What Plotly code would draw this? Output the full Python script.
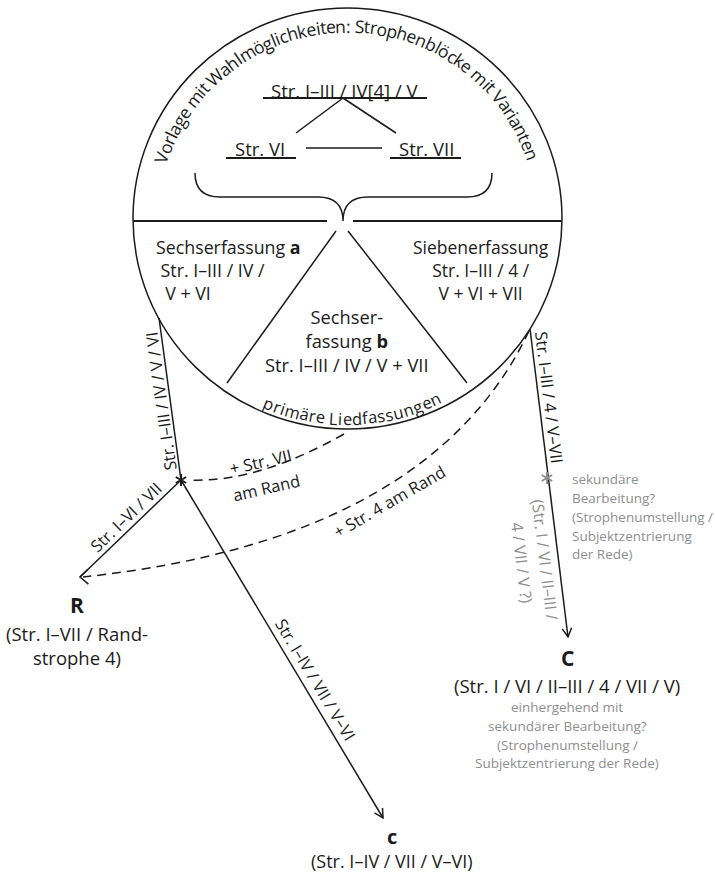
import math
import plotly.graph_objects as go

# ---------------- text content ----------------
ARC_TOP_TEXT = "Vorlage mit Wahlmöglichkeiten: Strophenblöcke mit Varianten"
ARC_BOTTOM_TEXT = "primäre Liedfassungen"
BLOCK_MAIN = "Str. I–III / IV[4] / V"
BLOCK_LEFT = "Str. VI"
BLOCK_RIGHT = "Str. VII"
VERSION_A_LINES = ["Sechserfassung <b>a</b>", " Str. I–III / IV /", "  V + VI"]
VERSION_B_LINES = ["Sechser-", "fassung <b>b</b>", "Str. I–III / IV / V + VII"]
VERSION_7_LINES = ["Siebenerfassung", "Str. I–III / 4 /", "V + VI + VII"]
LABEL_A_TO_STAR = "Str. I–III / IV / V / VI"
LABEL_STAR_TO_R = "Str. I–VI / VII"
LABEL_STAR_TO_c = "Str. I–IV / VII / V–VI"
LABEL_7_TO_C = "Str. I–III / 4 / V–VII"
LABEL_SEC_EDGE = ["(Str. I / VI / II–III /", "4 / VII / V ?)"]
LABEL_DASH_VII = ["+ Str. VII", "am Rand"]
LABEL_DASH_4 = "+ Str. 4 am Rand"
NODE_R_LINES = ["<b>R</b>", "(Str. I–VII / Rand-", "strophe 4)"]
NODE_c_LINES = ["<b>c</b>", "(Str. I–IV / VII / V–VI)"]
NODE_C_LINES = ["<b>C</b>", "(Str. I / VI / II–III / 4 / VII / V)"]
NODE_C_NOTE = ["einhergehend mit", "sekundärer Bearbeitung?",
               "(Strophenumstellung /", "Subjektzentrierung der Rede)"]
SEC_NOTE = ["sekundäre", "Bearbeitung?", "(Strophenumstellung /",
            "Subjektzentrierung", "der Rede)"]

# ---------------- geometry (pixel space of the 715x873 canvas) ----------------
CIRCLE = dict(x0=133, y0=8, x1=562, y1=429)
CX, CY = (CIRCLE["x0"] + CIRCLE["x1"]) / 2, (CIRCLE["y0"] + CIRCLE["y1"]) / 2
DIVIDER_Y = 221
P = dict(
    left_exit=(159, 318), right_exit=(530, 329), bottom_exit=(344, 434),
    star=(181, 480), star2=(547, 478),
    R=(80, 577), c=(383, 818), C=(568, 637),
)
INK = "#1b1b1b"
GRAY = "#8e8e8e"
FONT = "Open Sans"

# approximate advance widths (em) for arc text spacing
CW = {' ': .26, 'a': .556, 'b': .613, 'c': .476, 'd': .613, 'e': .561, 'f': .339,
      'g': .548, 'h': .614, 'i': .253, 'k': .525, 'l': .253, 'm': .930, 'n': .614,
      'o': .604, 'p': .613, 'r': .408, 's': .477, 't': .353, 'u': .614, 'V': .578,
      'W': .907, 'L': .504, 'S': .536, ':': .266, 'ö': .604, 'ä': .556}

shapes = []
annotations = []


def line(p, q, width=1.5, color=INK, dash="solid"):
    shapes.append(dict(type="line", x0=p[0], y0=p[1], x1=q[0], y1=q[1],
                       xref="x", yref="y", line=dict(color=color, width=width, dash=dash)))


def path(d, width=1.5, color=INK, dash="solid"):
    shapes.append(dict(type="path", path=d, xref="x", yref="y",
                       line=dict(color=color, width=width, dash=dash)))


def arrowhead(tip, direction, length=10, half_angle=28, color=INK, width=1.5):
    dx, dy = direction
    n = math.hypot(dx, dy)
    ux, uy = dx / n, dy / n
    pts = []
    for s in (1, -1):
        a = math.radians(s * half_angle)
        bx = -(ux * math.cos(a) - uy * math.sin(a))
        by = -(ux * math.sin(a) + uy * math.cos(a))
        pts.append((tip[0] + length * bx, tip[1] + length * by))
    path(f"M {pts[0][0]:.2f} {pts[0][1]:.2f} L {tip[0]} {tip[1]} L {pts[1][0]:.2f} {pts[1][1]:.2f}",
         width=width, color=color)


def asterisk(center, r=6, color=INK, width=2):
    for ang in (90, 30, -30):
        a = math.radians(ang)
        line((center[0] - r * math.cos(a), center[1] - r * math.sin(a)),
             (center[0] + r * math.cos(a), center[1] + r * math.sin(a)), width=width, color=color)


def txt(x, y, s, size=18, color=INK, angle=0, xanchor="center", align="center"):
    annotations.append(dict(x=x, y=y, text=s, showarrow=False, xref="x", yref="y",
                            xanchor=xanchor, yanchor="middle", textangle=angle, align=align,
                            font=dict(family=FONT, size=size, color=color)))


def arc_text(s, rx, ry, a0, a1, size, top=True, color=INK):
    widths = [CW.get(ch, 0.55) for ch in s]
    total = sum(widths)
    acc = 0.0
    for ch, w in zip(s, widths):
        frac = (acc + w / 2) / total
        acc += w
        a = a0 + (a1 - a0) * frac
        ar = math.radians(a)
        x = CX + rx * math.cos(ar)
        y = CY - ry * math.sin(ar)
        ang = 90 - a if top else -(a + 90)
        if ch != " ":
            txt(x, y, ch, size=size, color=color, angle=ang)


# ---------------- circle & its interior ----------------
shapes.append(dict(type="circle", xref="x", yref="y", line=dict(color=INK, width=1.5), **CIRCLE))
line((CIRCLE["x0"], DIVIDER_Y), (327, DIVIDER_Y), width=2.2)
line((353, DIVIDER_Y), (CIRCLE["x1"], DIVIDER_Y), width=2.2)
# brace
path("M 195 173 Q 195 197 220 197 L 318 197 Q 343 197 343 221 "
     "Q 343 197 368 197 L 467 197 Q 492 197 492 173")
# template blocks
txt(345, 90, BLOCK_MAIN, size=18.5)
line((263, 98), (427, 98), width=2.2)
line((343, 98), (296, 133))
line((343, 98), (396, 133))
txt(260, 148, BLOCK_LEFT, size=18.5)
line((226, 158), (296, 158), width=2.2)
txt(426, 148, BLOCK_RIGHT, size=18.5)
line((390, 158), (461, 158), width=2.2)
line((306, 148), (382, 148))
# arc texts
arc_text(ARC_TOP_TEXT, 196, 193, 163, 18, 17.5, top=True)
arc_text(ARC_BOTTOM_TEXT, 204, 200, -114, -63, 16.5, top=False)
# version sectors
line((336, 231), (227, 383))
line((348, 231), (467, 383))
txt(154, 270, "<br>".join(VERSION_A_LINES), size=17.8, xanchor="left", align="left")
txt(481, 270, "<br>".join(VERSION_7_LINES), size=17.5)
txt(347, 340, "<br>".join(VERSION_B_LINES), size=18.3)

# ---------------- transmission edges ----------------
line(P["left_exit"], P["star"])
line(P["star"], P["R"])
line(P["star"], P["c"])
line(P["right_exit"], P["C"])
arrowhead(P["c"], (P["c"][0] - P["star"][0], P["c"][1] - P["star"][1]))
arrowhead(P["C"], (P["C"][0] - P["right_exit"][0], P["C"][1] - P["right_exit"][1]))
arrowhead(P["R"], (-1, 0.03), length=11, half_angle=42)
# dashed additions
bx, by = P["bottom_exit"]
sx, sy = P["star"]
path(f"M {bx} {by} Q 257 483 {sx + 9} {sy}", dash="9px,6px")
rx_, ry_ = P["right_exit"]
Rx, Ry = P["R"]
path(f"M {rx_ - 1} {ry_ + 2} Q 430 540 {Rx + 3} {Ry}", dash="9px,6px")
asterisk(P["star"])
asterisk(P["star2"], color=GRAY)

# edge labels
txt(160, 401, LABEL_A_TO_STAR, size=16.5, angle=-98)
txt(125, 517, LABEL_STAR_TO_R, size=16.5, angle=-44)
txt(316, 679, LABEL_STAR_TO_c, size=16.5, angle=59)
txt(550, 397, LABEL_7_TO_C, size=16.5, angle=83)
txt(545, 559, LABEL_SEC_EDGE[0], size=16, angle=83, color=GRAY)
txt(522, 563, LABEL_SEC_EDGE[1], size=16, angle=83, color=GRAY)
txt(260, 461, LABEL_DASH_VII[0], size=16.5, angle=-13)
txt(266, 487, LABEL_DASH_VII[1], size=16.5, angle=-13)
txt(389, 501, LABEL_DASH_4, size=16.5, angle=-30)

# ---------------- nodes ----------------
txt(77, 605, NODE_R_LINES[0], size=21)
txt(77, 645, "<br>".join(NODE_R_LINES[1:]), size=18.5)
txt(392, 836, NODE_c_LINES[0], size=20)
txt(392, 861, NODE_c_LINES[1], size=18)
txt(567, 658, NODE_C_LINES[0], size=21)
txt(567, 685, NODE_C_LINES[1], size=18.5)
for y, s in zip([707, 726, 745, 763], NODE_C_NOTE):
    txt(567, y, s, size=13.5, color=GRAY)
for y, s in zip([479, 498, 517, 536, 554], SEC_NOTE):
    txt(570, y, s, size=13.5, color=GRAY, xanchor="left")

fig = go.Figure()
fig.update_layout(
    width=715, height=873, margin=dict(l=0, r=0, t=0, b=0),
    paper_bgcolor="white", plot_bgcolor="white", showlegend=False,
    xaxis=dict(range=[0, 715], visible=False, fixedrange=True),
    yaxis=dict(range=[873, 0], visible=False, fixedrange=True),
    shapes=shapes, annotations=annotations,
)
fig.write_html("out.html", config={"displayModeBar": False},
               post_script="document.body.style.margin='0';document.body.style.overflow='hidden';")
